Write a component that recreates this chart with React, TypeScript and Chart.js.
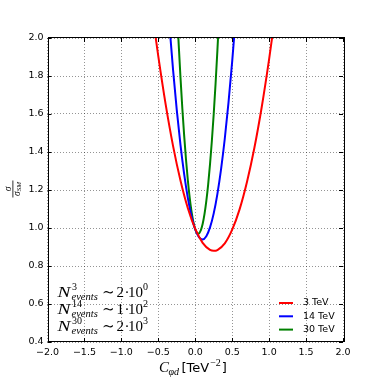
import React, { useEffect, useRef } from "react";
import { Chart, registerables } from "chart.js";

Chart.register(...registerables);

// ---- data ----
const c3TeV = [-0.55, -0.5, -0.4, -0.3, -0.2, -0.1, 0, 0.1, 0.2, 0.25, 0.3, 0.4, 0.5, 0.6, 0.7, 0.8, 0.9, 1.0, 1.05];
const ratio3TeV = [2.043, 1.903, 1.649, 1.431, 1.25, 1.104, 0.995, 0.922, 0.885, 0.88, 0.884, 0.919, 0.991, 1.098, 1.242, 1.421, 1.637, 1.889, 2.029];

const c14TeV = [-0.35, -0.3, -0.25, -0.2, -0.15, -0.1, -0.05, 0, 0.05, 0.1, 0.15, 0.2, 0.25, 0.3, 0.35, 0.4, 0.45, 0.5, 0.55];
const ratio14TeV = [2.071, 1.831, 1.62, 1.437, 1.283, 1.157, 1.06, 0.992, 0.952, 0.94, 0.957, 1.003, 1.077, 1.18, 1.311, 1.471, 1.66, 1.877, 2.122];

const c30TeV = [-0.25, -0.225, -0.2, -0.175, -0.15, -0.125, -0.1, -0.075, -0.05, -0.025, 0, 0.025, 0.05, 0.075, 0.1, 0.125, 0.15, 0.175, 0.2, 0.225, 0.25, 0.275, 0.3, 0.325];
const ratio30TeV = [2.172, 1.973, 1.793, 1.63, 1.486, 1.359, 1.25, 1.159, 1.086, 1.03, 0.993, 0.973, 0.971, 0.988, 1.021, 1.073, 1.143, 1.23, 1.336, 1.459, 1.6, 1.759, 1.936, 2.13];

const seriesLabels = ["3 TeV", "14 TeV", "30 TeV"];
const seriesColors = ["#ff0000", "#0000ff", "#008000"];

const xTicks = [-2.0, -1.5, -1.0, -0.5, 0.0, 0.5, 1.0, 1.5, 2.0];
const yTicks = [0.4, 0.6, 0.8, 1.0, 1.2, 1.4, 1.6, 1.8, 2.0];

const eventEnergies = ["3", "14", "30"];
const eventMantissas = ["2", "1", "2"];
const eventExponents = ["0", "2", "3"];

const fmt = (v: number) => v.toFixed(1).replace("-", "\u2212");

const SERIF = '"Liberation Serif", "DejaVu Serif", serif';
const SANS = '"DejaVu Sans", sans-serif';

const decorPlugin = {
  id: "decor",
  afterDraw(chart: any) {
    const { ctx, chartArea } = chart;
    const { left, right, top, bottom } = chartArea;
    const xs = chart.scales.x;
    const ys = chart.scales.y;
    ctx.save();

    // frame
    ctx.strokeStyle = "#000";
    ctx.lineWidth = 1;
    ctx.strokeRect(Math.round(left) + 0.5, Math.round(top) - 0.5, Math.round(right - left), Math.round(bottom - top));

    // inward ticks on all four sides
    ctx.beginPath();
    const tl = 4;
    xTicks.forEach((v) => {
      const px = Math.round(xs.getPixelForValue(v)) + 0.5;
      ctx.moveTo(px, bottom);
      ctx.lineTo(px, bottom - tl);
      ctx.moveTo(px, top);
      ctx.lineTo(px, top + tl);
    });
    yTicks.forEach((v) => {
      const py = Math.round(ys.getPixelForValue(v)) + 0.5;
      ctx.moveTo(left, py);
      ctx.lineTo(left + tl, py);
      ctx.moveTo(right, py);
      ctx.lineTo(right - tl, py);
    });
    ctx.stroke();

    // legend (inside, lower right)
    ctx.font = `9.5px ${SANS}`;
    ctx.textBaseline = "middle";
    ctx.textAlign = "left";
    seriesLabels.forEach((lab, i) => {
      const y = 303 + i * 13.3;
      ctx.strokeStyle = seriesColors[i];
      ctx.lineWidth = 2;
      ctx.beginPath();
      ctx.moveTo(279, y);
      ctx.lineTo(293, y);
      ctx.stroke();
      ctx.fillStyle = "#000";
      ctx.fillText(lab, 303, y);
    });

    // event count annotation
    ctx.fillStyle = "#000";
    ctx.textBaseline = "alphabetic";
    eventEnergies.forEach((e, i) => {
      const by = 297 + i * 17;
      ctx.save();
      ctx.translate(57.5, by);
      ctx.scale(1.25, 1);
      ctx.font = `italic 15.5px ${SERIF}`;
      ctx.fillText("N", 0, 0);
      ctx.restore();
      ctx.font = `10px ${SERIF}`;
      ctx.fillText(e, 72, by - 7);
      ctx.font = `italic 10.5px ${SERIF}`;
      ctx.fillText("events", 71.5, by + 3);
      ctx.font = `15px "DejaVu Serif", serif`;
      ctx.fillText("\u223C", 102, by);
      ctx.font = `15px ${SERIF}`;
      ctx.fillText(eventMantissas[i], 116.5, by);
      ctx.fillText("\u00B7", 124.5, by);
      ctx.fillText("10", 128, by);
      ctx.font = `10px ${SERIF}`;
      ctx.fillText(eventExponents[i], 143, by - 7);
    });

    // x-axis title: C_{φd} [TeV^{-2}]
    let x = 159;
    const bx = 372;
    ctx.font = `italic 15px ${SERIF}`;
    ctx.fillText("C", x, bx);
    x += ctx.measureText("C").width - 0.5;
    ctx.font = `italic 10px ${SERIF}`;
    ctx.fillText("\u03C6d", x, bx + 3);
    x = 181.5;
    ctx.font = `13px ${SANS}`;
    ctx.fillText("[TeV", x, bx);
    x += ctx.measureText("[TeV").width + 1;
    ctx.font = `10px ${SERIF}`;
    ctx.fillText("\u22122", x, bx - 6);
    x += ctx.measureText("\u22122").width + 1;
    ctx.font = `13px ${SANS}`;
    ctx.fillText("]", x, bx);

    // y-axis title: sigma / sigma_SM (rotated)
    ctx.translate(13, 189);
    ctx.rotate(-Math.PI / 2);
    ctx.textAlign = "center";
    ctx.font = `italic 9.5px ${SERIF}`;
    ctx.fillText("\u03C3", 0, -2);
    const wS = ctx.measureText("\u03C3").width;
    ctx.font = `italic 7px ${SERIF}`;
    const wSM = ctx.measureText("SM").width;
    const total = wS + wSM;
    ctx.textAlign = "left";
    ctx.font = `italic 9.5px ${SERIF}`;
    ctx.fillText("\u03C3", -total / 2, 6.5);
    ctx.font = `italic 7px ${SERIF}`;
    ctx.fillText("SM", -total / 2 + wS, 8);
    ctx.fillRect(-total / 2 - 1.5, -0.5, total + 3, 0.8);

    ctx.restore();
  },
};

export default function App() {
  const canvasRef = useRef<HTMLCanvasElement | null>(null);

  useEffect(() => {
    if (!canvasRef.current) return;
    const mk = (cs: number[], rs: number[]) => cs.map((c, i) => ({ x: c, y: rs[i] }));
    const chart = new Chart(canvasRef.current, {
      type: "line",
      data: {
        datasets: [
          { label: seriesLabels[0], data: mk(c3TeV, ratio3TeV), borderColor: seriesColors[0] },
          { label: seriesLabels[1], data: mk(c14TeV, ratio14TeV), borderColor: seriesColors[1] },
          { label: seriesLabels[2], data: mk(c30TeV, ratio30TeV), borderColor: seriesColors[2] },
        ].map((d) => ({
          ...d,
          borderWidth: 2,
          pointRadius: 0,
          fill: false,
          cubicInterpolationMode: "monotone" as const,
        })),
      },
      options: {
        responsive: false,
        animation: false,
        events: [],
        layout: { padding: { top: 38, right: 38, left: 0, bottom: 0 } },
        plugins: { legend: { display: false }, tooltip: { enabled: false } },
        scales: {
          x: {
            type: "linear",
            min: -2,
            max: 2,
            afterBuildTicks: (s: any) => {
              s.ticks = xTicks.map((v) => ({ value: v }));
            },
            afterFit: (s: any) => {
              s.height = 39;
            },
            grid: { color: "rgba(0,0,0,0.42)", lineWidth: 1, drawTicks: false },
            border: { display: false, dash: [1, 2] },
            ticks: {
              padding: 5,
              color: "#000",
              maxRotation: 0,
              autoSkip: false,
              font: { family: SANS, size: 9.5 },
              callback: (v: any) => fmt(Number(v)),
            },
          },
          y: {
            type: "linear",
            min: 0.4,
            max: 2.0,
            afterBuildTicks: (s: any) => {
              s.ticks = yTicks.map((v) => ({ value: v }));
            },
            afterFit: (s: any) => {
              s.width = 47.5;
            },
            grid: { color: "rgba(0,0,0,0.42)", lineWidth: 1, drawTicks: false },
            border: { display: false, dash: [1, 2] },
            ticks: {
              padding: 4,
              color: "#000",
              autoSkip: false,
              font: { family: SANS, size: 9.5 },
              callback: (v: any) => fmt(Number(v)),
            },
          },
        },
      },
      plugins: [decorPlugin],
    });
    return () => chart.destroy();
  }, []);

  return (
    <div style={{ position: "fixed", left: 0, top: 0, width: 381, height: 381, background: "#fff" }}>
      <canvas ref={canvasRef} width={381} height={381} style={{ display: "block" }} />
    </div>
  );
}
